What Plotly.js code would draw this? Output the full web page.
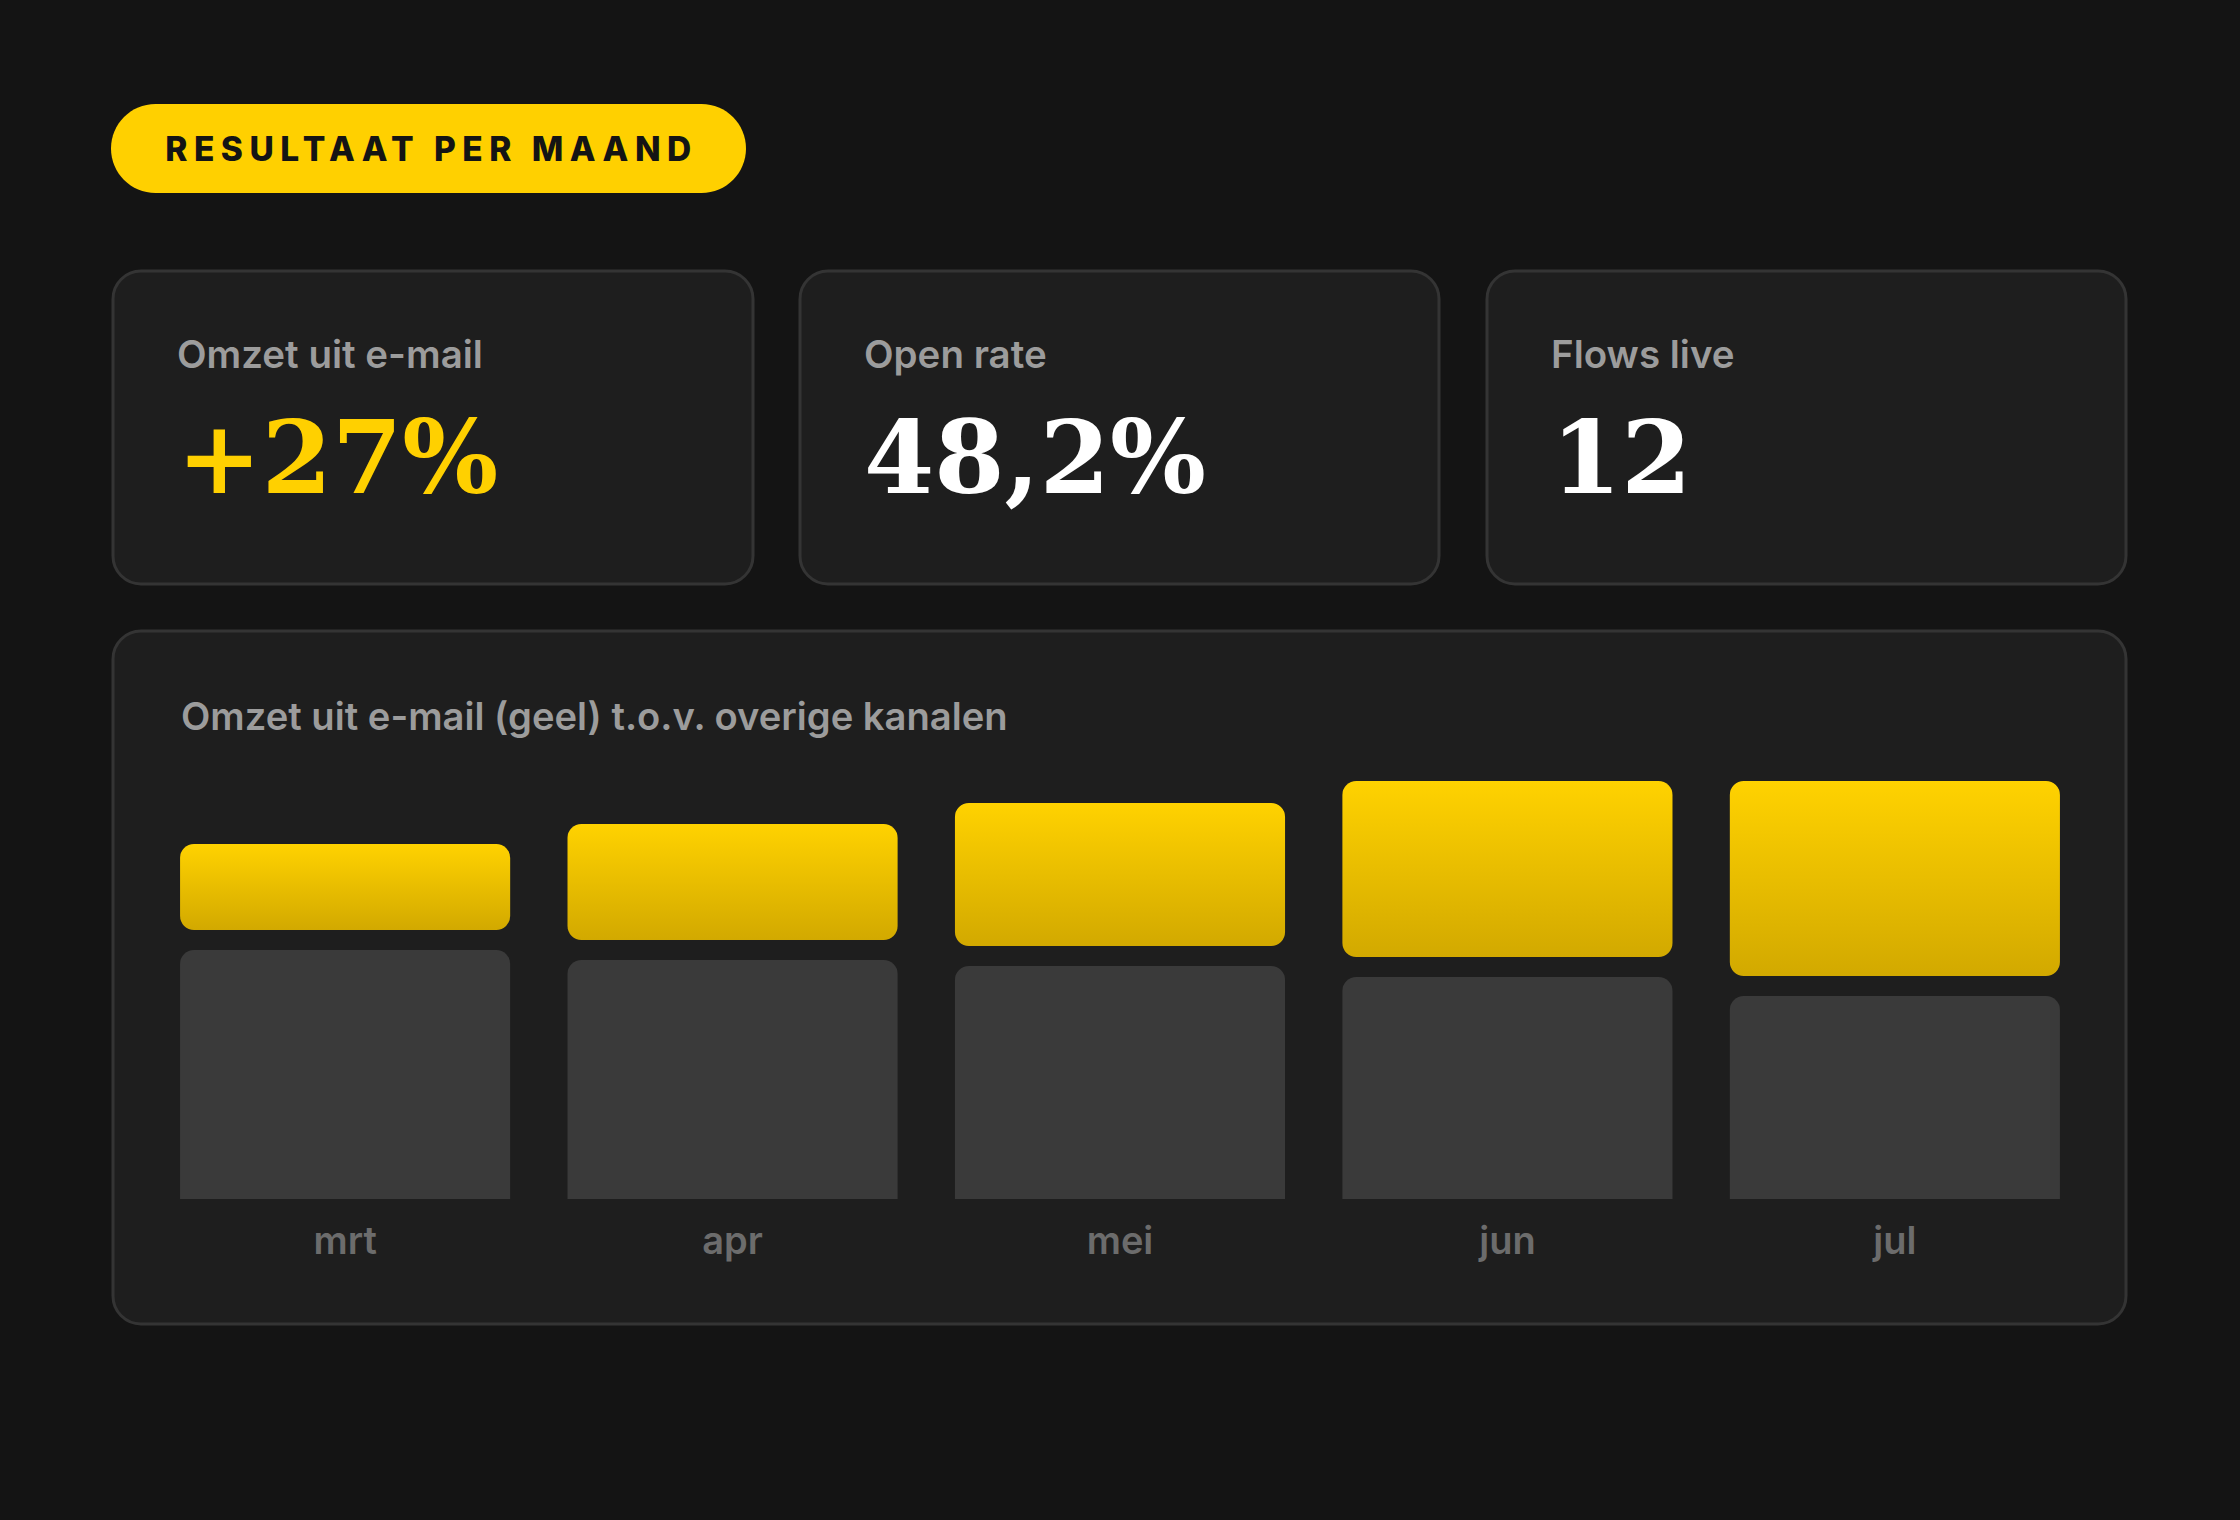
<!DOCTYPE html>
<html><head><meta charset="utf-8">
<script src="https://cdn.plot.ly/plotly-3.0.1.min.js"></script>
<style>
html,body{margin:0;padding:0;background:#141414;}
#chart{width:2240px;height:1520px;}
.annotation[data-index="0"] .annotation-text{letter-spacing:6.5px;}
</style></head><body><div id="chart"></div>
<script>
// ---- data ----
const months = ['mrt', 'apr', 'mei', 'jun', 'jul'];
const emailRevenue = [8.6, 11.6, 14.3, 17.6, 19.5];
const otherChannels = [24.9, 23.9, 23.3, 22.2, 20.3];
const kpiLabels = ['Omzet uit e-mail', 'Open rate', 'Flows live'];
const kpiValues = ['+27%', '48,2%', '12'];
const badgeText = 'RESULTAAT PER MAAND';
const chartTitle = 'Omzet uit e-mail (geel) t.o.v. overige kanalen';

// ---- styling / layout helpers ----
const W = 2240, H = 1520;
const GAP = 2.0; // visual gap between stacked segments (axis units)
const px = x => x / W;
const py = y => 1 - y / H;
function rr(x0, y0, x1, y1, r) {
  const k = 0.5523 * r;
  const P = (x, y) => px(x) + ',' + py(y);
  return 'M' + P(x0 + r, y0) + ' L' + P(x1 - r, y0) +
    ' C' + P(x1 - r + k, y0) + ' ' + P(x1, y0 + r - k) + ' ' + P(x1, y0 + r) +
    ' L' + P(x1, y1 - r) +
    ' C' + P(x1, y1 - r + k) + ' ' + P(x1 - r + k, y1) + ' ' + P(x1 - r, y1) +
    ' L' + P(x0 + r, y1) +
    ' C' + P(x0 + r - k, y1) + ' ' + P(x0, y1 - r + k) + ' ' + P(x0, y1 - r) +
    ' L' + P(x0, y0 + r) +
    ' C' + P(x0, y0 + r - k) + ' ' + P(x0 + r - k, y0) + ' ' + P(x0 + r, y0) + ' Z';
}
const cardStyle = {type: 'path', xref: 'paper', yref: 'paper', layer: 'below',
  fillcolor: '#1e1e1e', line: {color: '#343434', width: 3}};
const cards = [[113, 271, 753, 584], [800, 271, 1439, 584], [1487, 271, 2126, 584]];
const shapes = [
  {type: 'path', xref: 'paper', yref: 'paper', layer: 'below', path: rr(111, 104, 746, 193, 44.5),
   fillcolor: '#FFD000', line: {width: 0}},
  ...cards.map(c => Object.assign({}, cardStyle, {path: rr(c[0], c[1], c[2], c[3], 28)})),
  Object.assign({}, cardStyle, {path: rr(113, 631, 2126, 1324, 28)})
];

const labelFont = {family: 'Inter, "Noto Sans", sans-serif', size: 38.5, color: '#9c9c9c', weight: 600};
const numFont = {family: '"DejaVu Serif", serif', size: 101, weight: 700};
const annotations = [
  {text: badgeText, x: px(431), y: py(149), xanchor: 'center', yanchor: 'middle',
   font: {family: 'Inter, sans-serif', size: 33.5, color: '#141414', weight: 800}},
  ...kpiLabels.map((t, i) => ({text: t, x: px(cards[i][0] + 62), y: py(354), xanchor: 'left', yanchor: 'middle', font: labelFont})),
  ...kpiValues.map((t, i) => ({text: t, x: px(cards[i][0] + 62), y: py(457), xanchor: 'left', yanchor: 'middle',
    font: Object.assign({}, numFont, {color: i === 0 ? '#FFD000' : '#ffffff'})})),
  {text: chartTitle, x: px(179), y: py(716), xanchor: 'left', yanchor: 'middle', font: Object.assign({}, labelFont, {size: 38.2})}
].map(a => Object.assign({xref: 'paper', yref: 'paper', showarrow: false}, a));

const traces = [
  {type: 'bar', name: 'Overige kanalen', x: months, y: otherChannels, xaxis: 'x', yaxis: 'y',
   marker: {color: '#3a3a3a', line: {width: 0}, cornerradius: 14}, hoverinfo: 'skip'},
  {type: 'bar', name: 'Omzet uit e-mail', x: months, y: emailRevenue, xaxis: 'x2', yaxis: 'y2',
   base: otherChannels.map(v => v + GAP),
   marker: {color: '#EBC300', line: {width: 0}, cornerradius: 14}, hoverinfo: 'skip'}
];

const xDomain = [px(151.4), px(2088.6)];
const yDomain = [py(1199), py(759)];
const layout = {
  width: W, height: H, margin: {l: 0, r: 0, t: 0, b: 0},
  paper_bgcolor: '#141414', plot_bgcolor: 'rgba(0,0,0,0)',
  showlegend: false, barmode: 'group', bargap: 0.148, barcornerradius: 14,
  xaxis: {domain: xDomain, showgrid: false, zeroline: false, showline: false,
    ticks: '', ticklabelstandoff: 16,
    tickfont: {family: 'Inter, sans-serif', size: 38, color: '#6c6c6c', weight: 600}},
  yaxis: {domain: yDomain, range: [0, 44], visible: false, fixedrange: true},
  xaxis2: {overlaying: 'x', matches: 'x', visible: false},
  yaxis2: {overlaying: 'y', range: [0, 44], visible: false, fixedrange: true},
  shapes: shapes, annotations: annotations, hovermode: false
};

Plotly.newPlot('chart', traces, layout, {displayModeBar: false, staticPlot: true}).then(gd => {
  const svg = gd.querySelector('.main-svg');
  const NS = 'http://www.w3.org/2000/svg';
  let defs = svg.querySelector('defs');
  if (!defs) { defs = document.createElementNS(NS, 'defs'); svg.insertBefore(defs, svg.firstChild); }
  const g = document.createElementNS(NS, 'linearGradient');
  g.setAttribute('id', 'emailGrad'); g.setAttribute('x1', '0'); g.setAttribute('y1', '0');
  g.setAttribute('x2', '0'); g.setAttribute('y2', '1');
  [['0', '#FFD200'], ['1', '#D2A900']].forEach(s => {
    const st = document.createElementNS(NS, 'stop');
    st.setAttribute('offset', s[0]); st.setAttribute('stop-color', s[1]); g.appendChild(st);
  });
  defs.appendChild(g);
  gd.querySelectorAll('.barlayer .trace').forEach(t => {
    const cd = t.__data__;
    if (cd && cd[0] && cd[0].trace && cd[0].trace.index === 1) {
      t.querySelectorAll('.point path').forEach(p => { p.style.fill = 'url(#emailGrad)'; });
    }
  });
});
</script></body></html>
